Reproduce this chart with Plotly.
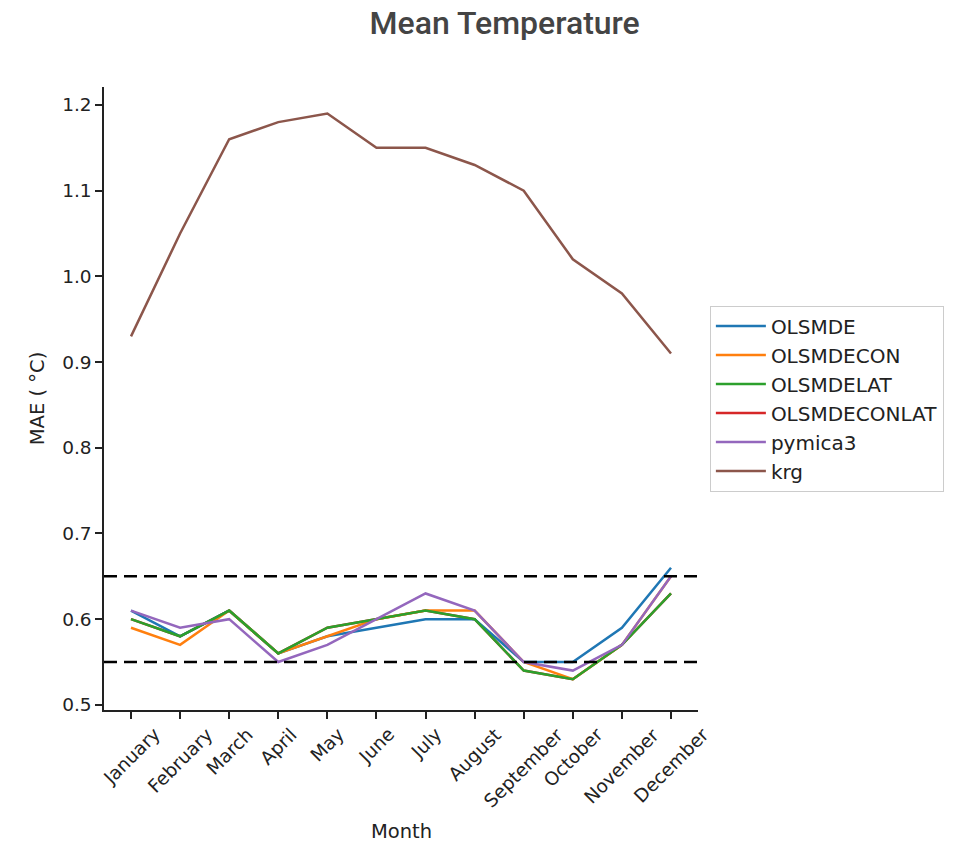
import plotly.graph_objects as go

months = ["January", "February", "March", "April", "May", "June", "July",
          "August", "September", "October", "November", "December"]

olsmde = [0.61, 0.58, 0.61, 0.56, 0.58, 0.59, 0.60, 0.60, 0.55, 0.55, 0.59, 0.66]
olsmdecon = [0.59, 0.57, 0.61, 0.56, 0.58, 0.60, 0.61, 0.61, 0.55, 0.53, 0.57, 0.65]
olsmdelat = [0.60, 0.58, 0.61, 0.56, 0.59, 0.60, 0.61, 0.60, 0.54, 0.53, 0.57, 0.63]
olsmdeconlat = [0.60, 0.58, 0.61, 0.56, 0.59, 0.60, 0.61, 0.60, 0.54, 0.53, 0.57, 0.63]
pymica3 = [0.61, 0.59, 0.60, 0.55, 0.57, 0.60, 0.63, 0.61, 0.55, 0.54, 0.57, 0.65]
krg = [0.93, 1.05, 1.16, 1.18, 1.19, 1.15, 1.15, 1.13, 1.10, 1.02, 0.98, 0.91]

series_names = ["OLSMDE", "OLSMDECON", "OLSMDELAT", "OLSMDECONLAT", "pymica3", "krg"]
series_values = [olsmde, olsmdecon, olsmdelat, olsmdeconlat, pymica3, krg]
colors = ["#1f77b4", "#ff7f0e", "#2ca02c", "#d62728", "#9467bd", "#8c564b"]

# draw order: red beneath green so it is hidden as in the reference
draw_order = [3, 0, 1, 2, 4, 5]

thresholds = [0.65, 0.55]
y_ticks = [0.5, 0.6, 0.7, 0.8, 0.9, 1.0, 1.1, 1.2]

fig = go.Figure()
x_idx = list(range(len(months)))
for i in draw_order:
    fig.add_trace(go.Scatter(x=x_idx, y=series_values[i], mode="lines",
                             name=series_names[i],
                             line=dict(color=colors[i], width=2.5),
                             legendrank=i + 1))

for t in thresholds:
    fig.add_shape(type="line", xref="paper", x0=0, x1=1, yref="y", y0=t, y1=t,
                  line=dict(color="black", width=2.5, dash="13px,7px"))

# month tick labels centred under each tick and rotated (matplotlib style)
for i, m in zip(x_idx, months):
    fig.add_annotation(x=i, xref="x", y=0, yref="paper", text=m,
                       textangle=-45, xanchor="center", yanchor="top",
                       yshift=-11, showarrow=False,
                       font=dict(family="DejaVu Sans", size=18.5, color="#222222"))

fig.add_annotation(x=0.5, xref="paper", y=0, yref="paper", text="Month",
                   xanchor="center", yanchor="middle", yshift=-121,
                   showarrow=False,
                   font=dict(family="DejaVu Sans", size=19.5, color="#222222"))

fig.update_layout(
    width=957, height=835,
    paper_bgcolor="white", plot_bgcolor="white",
    margin=dict(l=96, r=267, t=79, b=133),
    title=dict(text="Mean Temperature", x=0.519, xanchor="center",
               y=0.982, yanchor="middle",
               font=dict(family="Roboto", size=32, color="#444444", weight=500)),
    font=dict(family="DejaVu Sans", size=19, color="#222222"),
    showlegend=True,
    legend=dict(x=1.02, xanchor="left", y=0.5, yanchor="middle",
                bordercolor="#cccccc", borderwidth=1,
                font=dict(family="DejaVu Sans", size=20, color="#222222"),
                tracegroupgap=0, itemwidth=50),
    xaxis=dict(
        tickmode="array", tickvals=x_idx, showticklabels=False,
        range=[-0.55, 11.55], showgrid=False, zeroline=False,
        showline=True, linecolor="#222222", linewidth=1.5,
        ticks="outside", ticklen=7, tickcolor="#222222", tickwidth=1.5,
        automargin=False,
    ),
    yaxis=dict(
        range=[0.494, 1.221], tickvals=y_ticks,
        tickformat=".1f", showgrid=False, zeroline=False,
        showline=True, linecolor="#222222", linewidth=1.5,
        ticks="outside", ticklen=7, tickcolor="#222222", tickwidth=1.5,
        tickfont=dict(family="DejaVu Sans", size=18.5),
        title=dict(text="MAE ( °C)", font=dict(family="DejaVu Sans", size=19.5), standoff=12),
        automargin=False,
    ),
)

fig.write_html("out.html")
